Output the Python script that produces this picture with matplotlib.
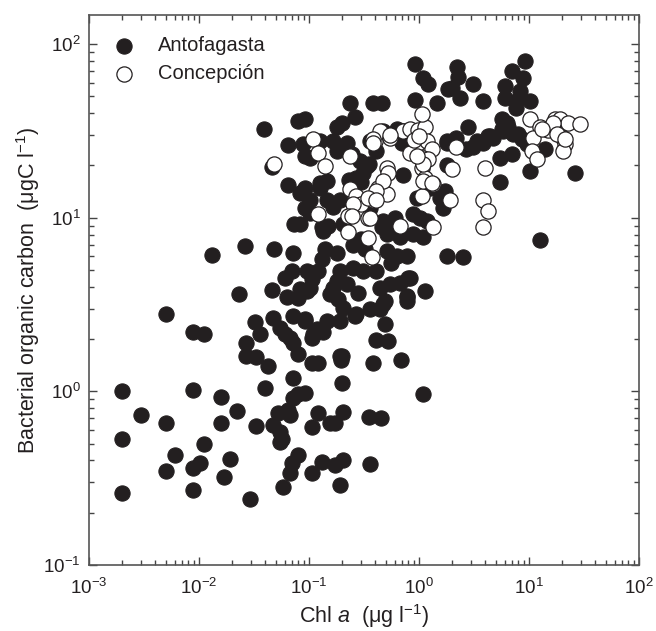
import math
import matplotlib
matplotlib.use("Agg")
import matplotlib.pyplot as plt
from matplotlib.ticker import LogLocator, FuncFormatter, NullFormatter

plt.rcParams['font.family'] = ['Liberation Sans', 'DejaVu Sans']
plt.rcParams['mathtext.fontset'] = 'custom'
plt.rcParams['mathtext.rm'] = 'Liberation Sans'
plt.rcParams['mathtext.it'] = 'Liberation Sans:italic'

# Antofagasta (Chl a, bacterial organic carbon)
anto_chl = [
    0.005, 0.0088, 0.011, 0.002, 0.003, 0.005, 0.002, 0.006, 0.005, 0.002, 0.0088, 0.016, 0.022, 0.016,
    0.011, 0.0102, 0.0088, 0.019, 0.017, 0.0088, 0.029,
    0.032, 0.036, 0.027, 0.027, 0.033, 0.042, 0.04, 0.033,
    0.047, 0.072, 0.092, 0.055, 0.06, 0.067, 0.072, 0.079,
    0.109, 0.133, 0.106, 0.121, 0.072, 0.079, 0.092, 0.072,
    0.065, 0.067, 0.052, 0.047, 0.055, 0.057, 0.054,
    0.121, 0.106, 0.155, 0.08, 0.07, 0.067, 0.058, 0.106, 0.13,
    0.26, 0.36, 0.44, 0.47, 0.78, 0.49, 0.41, 0.52, 0.38, 0.69, 0.2, 0.2, 1.09, 0.205, 0.172, 0.35, 0.45,
    0.205, 0.172, 0.36, 0.19, 0.195,
    0.013, 0.026, 0.048, 0.072, 0.073, 0.07, 0.06, 0.023, 0.046, 0.063, 0.079,
    0.095, 0.106, 0.095, 0.13, 0.139, 0.102,
    0.039, 0.065, 0.08, 0.046, 0.065, 0.083, 0.092, 0.089, 0.102, 0.089, 0.102, 0.125,
    0.92, 1.09, 1.2, 1.85, 0.235, 0.38, 0.46, 0.26, 0.92, 1.45, 0.18, 0.2, 1.8,
    0.092, 0.125, 0.165, 0.22, 0.18, 0.245, 0.29, 0.335, 0.31, 0.27, 0.41, 0.47, 0.63, 0.71, 0.7, 0.36,
    0.125, 0.145, 0.092, 0.145, 0.19, 0.4, 0.36, 1.25, 1.56, 1.66, 0.96, 0.71,
    2.2, 2.25, 3.1, 2.0, 2.35, 3.83, 9.2, 7.0, 8.8, 6.1, 6.1, 8.3, 10.2, 7.6, 7.6,
    2.8, 5.65, 6.5, 1.8, 2.15, 2.7, 3.4, 4.2, 4.7, 5.65, 7.9, 9.6, 14.0, 5.4, 7.0, 10.2, 5.4, 26.2,
    12.6, 1.8, 2.5, 1.74, 0.8, 1.13, 0.78, 0.63, 0.67, 0.18, 0.155,
    6.3, 5.8, 7.2, 8.6, 4.4, 3.83, 3.1, 1.8,
    0.092, 0.133, 0.083, 0.18, 0.13, 0.19, 0.25, 0.31, 0.41, 0.51, 0.63, 0.78, 0.104, 0.121,
    0.083, 0.102, 0.165, 0.22, 0.28, 0.44, 0.54, 0.67, 0.83,
    0.184, 0.205, 0.27, 0.49, 0.78, 0.092, 0.118, 0.106, 0.145, 0.19, 0.19,
    0.47, 0.51, 0.67, 0.88, 1.09, 1.02, 1.17, 0.32,
    0.165, 0.205, 0.46, 0.88, 0.3, 0.25, 0.56, 0.6, 0.3, 0.23, 0.35, 0.15,
]
anto_boc = [
    2.8, 2.2, 2.15, 1.0, 0.73, 0.66, 0.53, 0.43, 0.35, 0.26, 1.02, 0.93, 0.77, 0.66,
    0.5, 0.385, 0.36, 0.41, 0.32, 0.27, 0.24,
    2.5, 2.15, 1.9, 1.6, 1.57, 1.4, 1.05, 0.63,
    2.66, 2.73, 2.55, 2.33, 2.15, 2.04, 1.89, 1.65,
    2.15, 2.2, 1.46, 1.45, 1.19, 0.97, 0.98, 0.91,
    0.78, 0.73, 0.75, 0.64, 0.58, 0.53, 0.51,
    0.75, 0.62, 0.66, 0.43, 0.385, 0.34, 0.28, 0.34, 0.39,
    2.73, 3.0, 3.0, 3.2, 3.33, 2.45, 1.97, 1.95, 1.46, 1.51, 1.6, 1.11, 0.97, 0.76, 0.66, 0.71, 0.70,
    0.40, 0.375, 0.38, 0.29, 1.51,
    6.1, 6.9, 6.6, 6.3, 9.2, 4.95, 4.5, 3.65, 3.85, 3.5, 3.45,
    4.95, 4.45, 3.8, 8.8, 6.6, 10.7,
    32.4, 26.3, 36.0, 19.5, 15.5, 13.8, 37.0, 26.5, 22.0, 14.2, 12.6, 15.9,
    77.0, 63.5, 59.0, 55.0, 46.0, 46.0, 46.0, 38.0, 47.5, 46.0, 33.5, 35.0, 27.5,
    22.7, 27.5, 27.5, 26.8, 24.2, 23.2, 21.2, 19.9, 18.0, 17.0, 24.2, 31.5, 32.5, 31.5, 26.8, 27.5,
    14.9, 16.3, 14.9, 12.6, 12.6, 13.0, 11.4, 14.9, 13.0, 11.4, 13.0, 17.5,
    73.5, 65.0, 58.5, 56.0, 49.0, 47.0, 80.0, 70.0, 63.5, 57.0, 49.0, 53.5, 47.0, 47.0, 43.0,
    33.5, 37.0, 33.5, 26.8, 28.8, 25.0, 27.5, 29.5, 28.8, 32.5, 30.5, 26.5, 25.0, 22.0, 23.2, 18.6, 16.0, 18.0,
    7.4, 6.05, 5.9, 14.2, 4.5, 3.8, 3.55, 9.0, 7.9, 4.3, 3.65,
    35.0, 31.5, 30.5, 28.3, 29.5, 26.8, 25.7, 20.0,
    11.4, 8.4, 9.2, 6.3, 5.8, 4.95, 5.15, 4.95, 4.95, 6.4, 6.05, 6.05, 4.8, 4.95,
    3.9, 3.95, 3.95, 4.15, 3.7, 3.95, 4.15, 4.2, 4.5,
    3.4, 3.03, 2.8, 3.33, 3.5, 2.62, 2.3, 2.04, 2.55, 2.55, 1.6,
    9.6, 8.1, 7.7, 8.1, 7.7, 10.0, 9.6, 6.6,
    11.5, 9.2, 8.8, 10.5, 7.5, 7.0, 5.5, 10.0, 16.0, 16.5, 20.5, 9.0,
]

# Concepción
conc_chl = [
    0.048, 0.109, 0.121, 0.139, 0.121, 0.235, 0.4, 0.44, 0.54, 0.51, 0.52, 0.42, 0.51, 0.235, 0.27, 0.3,
    0.25, 0.38, 0.71, 0.83, 0.98, 1.13, 1.07, 0.98, 1.17, 1.3, 0.83, 1.09, 1.2, 1.07, 1.13, 1.34, 1.07,
    2.0, 10.2, 12.6, 14.9, 17.9, 17.2, 19.0, 22.7, 29.0, 10.9, 20.4, 21.3, 20.4, 10.6, 11.9, 3.98, 3.83,
    4.2, 3.83, 2.17, 1.34, 0.67, 0.37, 1.9, 1.09, 1.09, 1.3,
    0.54, 0.38, 0.96, 0.47, 0.41, 0.345, 0.225, 0.345, 0.225, 0.345, 0.38, 16.5, 13.2, 17.9, 21.3,
    0.245, 0.36, 0.41, 0.9, 1.0,
]
conc_boc = [
    20.3, 28.3, 23.5, 19.9, 10.5, 22.7, 27.5, 31.5, 28.8, 19.3, 18.0, 14.9, 13.7, 14.7, 13.4, 12.0,
    12.0, 12.6, 31.5, 32.5, 32.0, 33.5, 39.5, 26.8, 27.5, 25.0, 23.5, 22.0, 21.8, 19.3, 17.0, 15.6, 13.4,
    19.1, 37.0, 33.5, 32.0, 34.5, 37.0, 37.0, 35.0, 34.5, 28.8, 28.8, 26.5, 24.2, 24.2, 21.8, 19.3, 12.6,
    11.0, 8.8, 25.7, 8.8, 9.0, 5.9, 12.6, 16.3, 20.3, 15.9,
    30.0, 28.3, 22.7, 16.3, 14.2, 13.0, 10.2, 10.0, 8.3, 7.6, 26.8, 35.0, 32.5, 30.5, 28.3,
    10.2, 9.9, 12.6, 28.0, 29.5,
]

fig = plt.figure(figsize=(6.56, 6.31), dpi=100)
ax = fig.add_axes([89/656, 1-565/631, 550/656, 550/631])

ax.scatter(anto_chl, anto_boc, s=120, c='#231f20', edgecolors='#231f20', linewidths=0.8,
           label='Antofagasta', zorder=2)
ax.scatter(conc_chl, conc_boc, s=120, c='white', edgecolors='#231f20', linewidths=0.9,
           label='Concepción', zorder=3)

ax.set_xscale('log')
ax.set_yscale('log')
ax.set_xlim(1e-3, 1e2)
ax.set_ylim(0.1, 147)

fmt = FuncFormatter(lambda v, p: r'$\mathregular{10^{%d}}$' % round(math.log10(v)))
ax.xaxis.set_major_locator(LogLocator(base=10, numticks=10))
ax.yaxis.set_major_locator(LogLocator(base=10, numticks=10))
ax.xaxis.set_minor_locator(LogLocator(base=10, subs=range(2, 10), numticks=20))
ax.yaxis.set_minor_locator(LogLocator(base=10, subs=range(2, 10), numticks=20))
ax.xaxis.set_major_formatter(fmt)
ax.yaxis.set_major_formatter(fmt)
ax.xaxis.set_minor_formatter(NullFormatter())
ax.yaxis.set_minor_formatter(NullFormatter())
ax.tick_params(which='both', direction='in', top=True, right=True, colors='#444444',
               labelcolor='#231f20', labelsize=13.5, width=1.0)
ax.tick_params(which='major', length=6)
ax.tick_params(which='minor', length=3.5)
ax.tick_params(axis='x', pad=9)
ax.tick_params(axis='y', pad=6)
for sp in ax.spines.values():
    sp.set_color('#555555')
    sp.set_linewidth(1.2)

ax.set_xlabel(r'Chl $\mathit{a}$  (μg l$^{\mathregular{-1}}$)', fontsize=15.5, color='#231f20', labelpad=3)
ax.set_ylabel(r'Bacterial organic carbon  (μgC l$^{\mathregular{-1}}$)', fontsize=15.5, color='#231f20', labelpad=1)

leg = ax.legend(loc='upper left', bbox_to_anchor=(0.027, 0.962), frameon=False, fontsize=14.5,
                handletextpad=0.7, borderaxespad=0, borderpad=0, labelspacing=0.45,
                handlelength=2.0, scatterpoints=1)
for t in leg.get_texts():
    t.set_color('#231f20')

fig.savefig('out.png', dpi=100)
